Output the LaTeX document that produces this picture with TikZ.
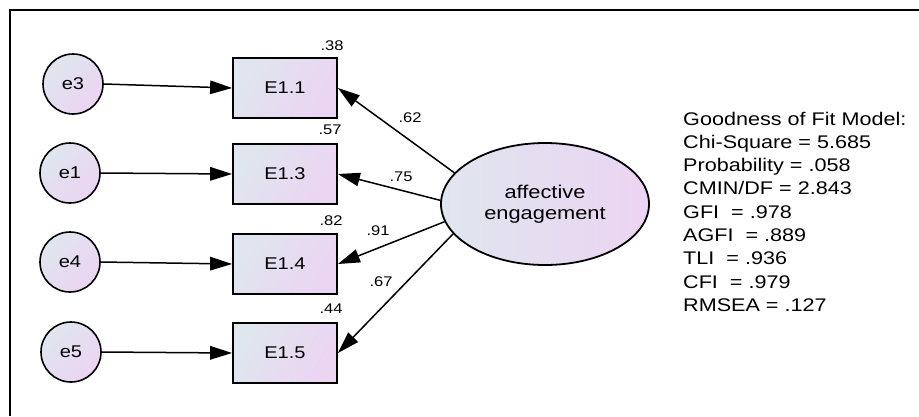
\documentclass[tikz,border=0pt]{standalone}
\usepackage{fontspec}
\setmainfont{Liberation Sans}[FakeStretch=1.18]
\usetikzlibrary{shapes.geometric,arrows.meta}

\definecolor{shadeA}{RGB}{223,230,238}
\definecolor{shadeB}{RGB}{236,212,243}

\tikzset{
  x=1pt, y=-1pt,
  fillgrad/.style={top color=shadeA, bottom color=shadeB, shading angle=60},
  errvar/.style={circle, draw, line width=1.6pt, minimum size=60pt, inner sep=0pt,
    fillgrad, shading angle=45, font=\fontsize{17}{18}\selectfont},
  obsvar/.style={rectangle, draw, line width=1.8pt, minimum width=104pt, minimum height=60pt,
    inner sep=0pt, fillgrad, font=\fontsize{17}{18}\selectfont},
  latent/.style={ellipse, draw, line width=1.8pt, minimum width=208pt, minimum height=122pt,
    inner sep=0pt, top color=shadeA, bottom color=shadeB, shading angle=90,
    align=center, font=\fontsize{18.5}{21.4}\selectfont},
  coef/.style={inner sep=0pt, font=\fontsize{14}{15}\selectfont},
  conn/.style={line width=1.5pt, -{Triangle[length=22pt,width=13.5pt]}},
  fitline/.style={anchor=base west, inner sep=0pt, font=\fontsize{18.3}{21}\selectfont},
}

\begin{document}
\begin{tikzpicture}
\useasboundingbox (0,0) rectangle (919,416);

% frame (top and left edges)
\draw[line width=2pt] (919,10) -- (9.5,10) -- (9.5,416);

% error terms
\node[errvar] (e3) at (73,84)  {e3};
\node[errvar] (e1) at (70,173) {e1};
\node[errvar] (e4) at (70,262) {e4};
\node[errvar] (e5) at (71,352) {e5};

% observed indicators
\node[obsvar] (E11) at (285,88)  {E1.1};
\node[obsvar] (E13) at (285,174) {E1.3};
\node[obsvar] (E14) at (285,264) {E1.4};
\node[obsvar] (E15) at (285,353) {E1.5};

% latent factor
\node[latent] (ae) at (545,204) {affective\\engagement};

% error paths
\draw[conn] (e3.east) -- (E11.west);
\draw[conn] (e1.east) -- (E13.west);
\draw[conn] (e4.east) -- (E14.west);
\draw[conn] (e5.east) -- (E15.west);

% factor loadings
\draw[conn] (ae.161.6) -- (E11.east);
\draw[conn] (ae.178.3) -- (E13.east);
\draw[conn] (ae.190)   -- (E14.east);
\draw[conn] (ae.198.6) -- (E15.east);

% squared multiple correlations
\node[coef] (r11) at (332,46)  {.38};
\node[coef] (r13) at (330,130) {.57};
\node[coef] (r14) at (331,221) {.82};
\node[coef] (r15) at (331,309) {.44};

% standardized loadings
\node[coef] (l11) at (410,118) {.62};
\node[coef] (l13) at (401,177) {.75};
\node[coef] (l14) at (378,231) {.91};
\node[coef] (l15) at (381,282) {.67};

% fit statistics
\foreach \txt [count=\i from 0] in {%
  Goodness of Fit Model:,
  Chi-Square = 5.685,
  Probability = .058,
  CMIN/DF = 2.843,
  GFI~ = .978,
  AGFI~ = .889,
  TLI~ = .936,
  CFI~ = .979,
  RMSEA = .127}
  \node[fitline] (fit\i) at (683,125+23.3*\i) {\txt};
\end{tikzpicture}
\end{document}
